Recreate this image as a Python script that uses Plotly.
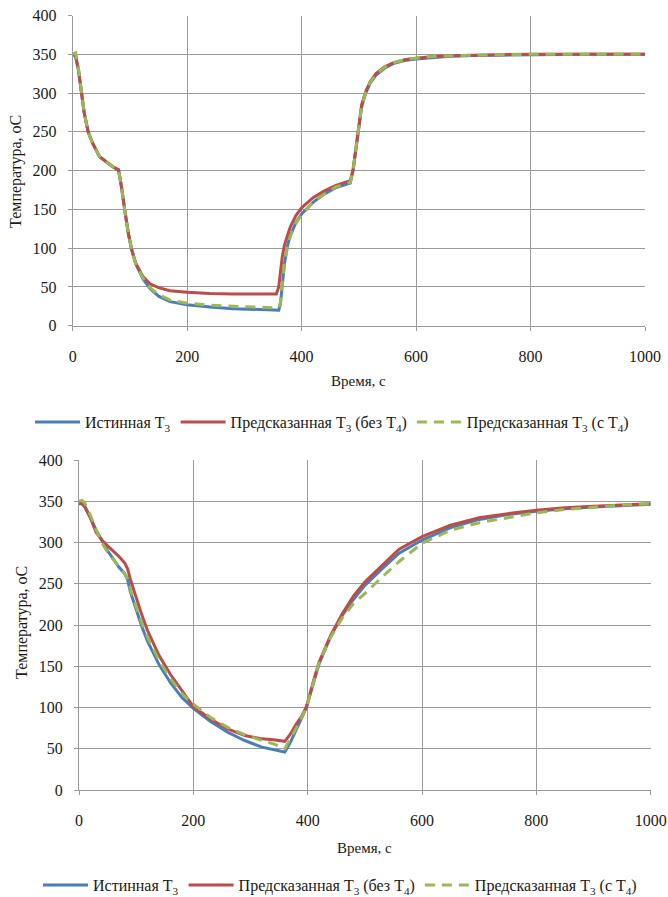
import plotly.graph_objects as go

# ---------------- Data: top chart ----------------
t_top = [0, 5, 10, 15, 20, 27, 35, 47, 60, 70, 80, 85, 91, 97, 103, 110, 123, 135, 150,
         170, 200, 240, 280, 320, 356, 360, 363, 366, 370, 375, 380, 390, 400, 420, 440,
         460, 485, 490, 495, 500, 505, 512, 520, 530, 545, 560, 580, 600, 630, 660, 700,
         750, 800, 900, 1000]
true_top = [350, 348, 330, 300, 275, 250, 235, 218, 210, 205, 201, 180, 149, 120, 98, 80,
            60, 48, 38, 31, 27, 24, 22, 21, 20, 20, 28, 50, 80, 102, 116, 133, 144, 159,
            170, 178, 184, 200, 230, 260, 283, 300, 313, 323, 332, 338, 342, 344, 346,
            347.5, 348.5, 349, 349.5, 350, 350]
pred_no_t4_top = [350, 348, 330, 300, 275, 250, 235, 218, 210, 205, 201, 180, 149, 120, 98,
                  81, 63, 54, 49, 45, 43, 41.5, 41, 41, 41, 50, 68, 88, 104, 117, 127, 142,
                  152, 165, 174, 181, 187, 202, 232, 262, 285, 302, 315, 325, 334, 339,
                  343, 345, 347, 348, 349, 349.5, 350, 350, 350]
pred_t4_top = [350, 352, 332, 300, 275, 250, 235, 218, 210, 205, 201, 180, 149, 120, 98,
               80, 61, 49, 40, 33, 29, 26.5, 25, 24, 23, 23, 30, 52, 80, 101, 115, 132,
               143, 159, 170, 179, 185, 201, 231, 261, 284, 301, 314, 324, 333, 339, 343,
               345, 347, 348, 349, 349.5, 350, 350, 350]

# ---------------- Data: bottom chart ----------------
t_bot = [0, 5, 10, 20, 30, 40, 50, 60, 70, 80, 85, 90, 100, 110, 120, 140, 160, 180, 200,
         230, 260, 290, 320, 340, 360, 370, 380, 390, 398, 410, 420, 440, 460, 480, 500,
         530, 560, 600, 650, 700, 750, 800, 850, 900, 950, 1000]
true_bot = [348, 347, 343, 330, 315, 302, 290, 280, 270, 262, 255, 240, 218, 198, 180, 152,
            130, 112, 99, 83, 70, 60, 52, 49, 46, 58, 72, 88, 101, 130, 153, 186, 211, 231,
            248, 268, 287, 303, 318, 328, 334, 338, 341, 343, 345, 346.5]
pred_no_t4_bot = [347, 347, 344, 330, 312, 303, 296, 290, 283, 275, 268, 255, 233, 212, 193,
                  163, 140, 120, 101, 86, 74, 66, 62, 61, 59, 68, 80, 90, 101, 132, 155,
                  187, 213, 235, 252, 272, 292, 307, 321, 330, 335, 339, 342, 344, 345.5,
                  347]
pred_t4_bot = [350, 351, 348, 333, 315, 300, 288, 279, 270, 262, 256, 243, 222, 202, 185,
               157, 135, 117, 104, 88, 76, 67, 60, 56, 50, 62, 75, 89, 100, 130, 155, 185,
               208, 226, 238, 258, 277, 299, 315, 324, 330, 336, 340, 343, 345.5, 347]

names = ["Истинная T<sub>3</sub>",
         "Предсказанная T<sub>3</sub> (без T<sub>4</sub>)",
         "Предсказанная T<sub>3</sub> (с T<sub>4</sub>)"]

BLUE = "#4a7ebb"
RED = "#be4b48"
GREEN = "#98b954"
GRID = "#9a9a9a"
FONT = "Liberation Serif, Times New Roman, Times, serif"
TXT = "#1a1a1a"

fig = go.Figure()

def add_set(t, a, b, c, xa, ya, leg):
    fig.add_trace(go.Scatter(x=t, y=a, mode="lines", name=names[0], xaxis=xa, yaxis=ya,
                             legend=leg, line=dict(color=BLUE, width=3)))
    fig.add_trace(go.Scatter(x=t, y=b, mode="lines", name=names[1], xaxis=xa, yaxis=ya,
                             legend=leg, line=dict(color=RED, width=3)))
    fig.add_trace(go.Scatter(x=t, y=c, mode="lines", name=names[2], xaxis=xa, yaxis=ya,
                             legend=leg, line=dict(color=GREEN, width=3, dash="10px,7px")))

add_set(t_top, true_top, pred_no_t4_top, pred_t4_top, "x", "y", "legend")
add_set(t_bot, true_bot, pred_no_t4_bot, pred_t4_bot, "x2", "y2", "legend2")

W, H = 668, 897

def xd(a, b):
    return [a / W, b / W]

def yd(top, bot):
    return [1 - bot / H, 1 - top / H]

xax = dict(range=[0, 1000], dtick=200, tick0=0, showgrid=True, gridcolor=GRID, gridwidth=1,
           showline=True, linecolor=GRID, linewidth=1, ticks="outside", ticklen=4,
           tickcolor=GRID, zeroline=False, ticklabelstandoff=12, automargin=False,
           tickfont=dict(family=FONT, size=16, color=TXT))
yax = dict(range=[0, 400], dtick=50, tick0=0, showgrid=True, gridcolor=GRID, gridwidth=1,
           showline=True, linecolor=GRID, linewidth=1, ticks="outside", ticklen=4,
           tickcolor=GRID, zeroline=False, ticklabelstandoff=8, automargin=False,
           tickfont=dict(family=FONT, size=16, color=TXT))

leg_common = dict(orientation="h", xanchor="left", yanchor="middle",
                  font=dict(family=FONT, size=16, color=TXT), bgcolor="rgba(0,0,0,0)",
                  itemwidth=45, tracegroupgap=0)

def ann(text, x, y, size, angle=0):
    return dict(text=text, x=x / W, y=1 - y / H, xref="paper", yref="paper",
                xanchor="center", yanchor="middle", showarrow=False, textangle=angle,
                font=dict(family=FONT, size=size, color=TXT))

fig.update_layout(
    template="none",
    width=W, height=H,
    margin=dict(l=0, r=0, t=0, b=0, autoexpand=False),
    font=dict(family=FONT, size=16, color=TXT),
    paper_bgcolor="white", plot_bgcolor="white",
    xaxis=dict(xax, domain=xd(72.7, 645), anchor="y"),
    yaxis=dict(yax, domain=yd(15.5, 325.7), anchor="x"),
    xaxis2=dict(xax, domain=xd(79, 650.7), anchor="y2"),
    yaxis2=dict(yax, domain=yd(460, 790), anchor="x2"),
    legend=dict(leg_common, x=30 / W, y=1 - 422 / H),
    legend2=dict(leg_common, x=38 / W, y=1 - 885 / H),
    annotations=[
        ann("Время, с", 358.8, 381, 15),
        ann("Время, с", 365, 848, 15),
        ann("Температура, оС", 16, 172, 16, -90),
        ann("Температура, оС", 22, 623, 16, -90),
    ],
)

fig.write_html("out.html", config={"displayModeBar": False},
               post_script="document.body.style.margin='0';document.body.style.overflow='hidden';")
